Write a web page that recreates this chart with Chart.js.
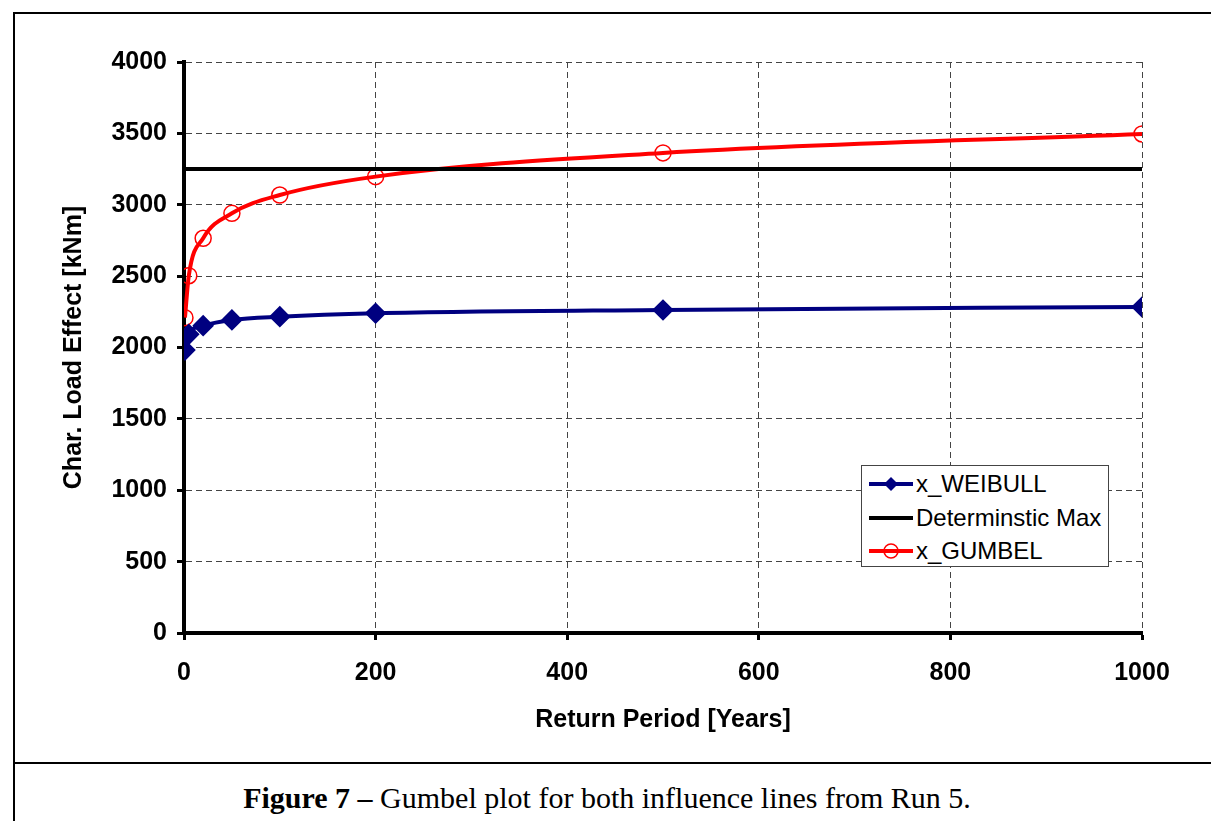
<!DOCTYPE html>
<html>
<head>
<meta charset="utf-8">
<script src="https://cdn.jsdelivr.net/npm/chart.js@4"></script>
<style>
  body { margin: 0; background: #fff; font-family: "Liberation Sans", Arial, sans-serif; }
  #frame { position: absolute; left: 13px; top: 12px; width: 1300px; height: 900px; border: 2px solid #000; }
  #divider { position: absolute; left: 13px; top: 762px; width: 1300px; border-top: 2px solid #000; }
  #chartBox { position: absolute; left: 15px; top: 15px; width: 1196px; height: 747px; }
  #caption { position: absolute; left: 0; top: 781px; width: 1214px; text-align: center;
    font-family: "Liberation Serif", "Times New Roman", serif; font-size: 30px; }
  #legend { position: absolute; left: 861px; top: 465px; width: 246px; height: 100px;
    border: 1px solid #444; background: #fff; }
  .row { position: absolute; left: 6px; height: 30px; font-size: 24px; display: flex; align-items: center; white-space: nowrap; }
  .row svg { margin-right: 2px; }
</style>
</head>
<body>
<div id="frame"></div>
<div id="divider"></div>
<div id="chartBox"><canvas id="grafico"></canvas></div>
<div id="legend">
  <div class="row" style="top:3px">
    <svg width="46" height="20"><line x1="1" y1="10" x2="45" y2="10" stroke="#000080" stroke-width="4"/><polygon points="23,3 30,10 23,17 16,10" fill="#000080"/></svg>x_WEIBULL
  </div>
  <div class="row" style="top:37px">
    <svg width="46" height="20"><line x1="1" y1="10" x2="45" y2="10" stroke="#000" stroke-width="4"/></svg>Determinstic Max
  </div>
  <div class="row" style="top:70px">
    <svg width="46" height="20"><line x1="1" y1="10" x2="45" y2="10" stroke="#ff0000" stroke-width="4"/><circle cx="23" cy="10" r="7" fill="none" stroke="#ff0000" stroke-width="1.5"/></svg>x_GUMBEL
  </div>
</div>
<div id="caption"><b>Figure 7 –</b> Gumbel plot for both influence lines from Run 5.</div>

<script>
// datos
const periodos = [1, 5, 20, 50, 100, 200, 500, 1000];
const weibull = [1982, 2092, 2153, 2193, 2216, 2240, 2263, 2284];
const gumbel = [2209, 2503, 2765, 2940, 3068, 3197, 3363, 3496];
const detX = [0, 1000];
const detMax = [3250, 3250];
const xTicks = [0, 200, 400, 600, 800, 1000];
const yTicks = [0, 500, 1000, 1500, 2000, 2500, 3000, 3500, 4000];

const toPoints = (xs, ys) => xs.map((x, i) => ({ x: x, y: ys[i] }));

const fuenteEje = { family: '"Liberation Sans", Arial, sans-serif', size: 25, weight: 'bold' };
const rejilla = { color: '#444', lineWidth: 1, tickColor: '#000', tickWidth: 3, tickLength: 7 };
const borde = { color: '#000', width: 4, dash: [6, 4] };

const ctx = document.getElementById('grafico').getContext('2d');
new Chart(ctx, {
    type: 'scatter',
    data: {
        datasets: [
            {
                label: 'x_WEIBULL',
                data: toPoints(periodos, weibull),
                showLine: true,
                borderColor: '#000080',
                backgroundColor: '#000080',
                borderWidth: 4,
                pointStyle: 'rectRot',
                pointRadius: 8,
                tension: 0.4,
                cubicInterpolationMode: 'monotone'
            },
            {
                label: 'Determinstic Max',
                data: toPoints(detX, detMax),
                showLine: true,
                borderColor: '#000',
                borderWidth: 4,
                pointRadius: 0
            },
            {
                label: 'x_GUMBEL',
                data: toPoints(periodos, gumbel),
                showLine: true,
                borderColor: '#ff0000',
                backgroundColor: 'transparent',
                pointBorderColor: '#ff0000',
                pointBorderWidth: 1.5,
                borderWidth: 4,
                pointStyle: 'circle',
                pointRadius: 8,
                tension: 0.4,
                cubicInterpolationMode: 'monotone'
            }
        ]
    },
    options: {
        responsive: true,
        maintainAspectRatio: false,
        animation: false,
        layout: { padding: { left: 40, right: 69, top: 47, bottom: 25 } },
        plugins: {
            legend: { display: false },
            tooltip: { enabled: false }
        },
        scales: {
            x: {
                type: 'linear',
                min: 0,
                max: 1000,
                afterBuildTicks: s => { s.ticks = xTicks.map(v => ({ value: v })); },
                afterFit: s => { s.height = 104; },
                ticks: { color: '#000', font: fuenteEje, padding: 18, callback: v => String(v) },
                grid: rejilla,
                border: borde,
                title: { display: true, text: 'Return Period [Years]', color: '#000', font: fuenteEje, padding: 2 }
            },
            y: {
                min: 0,
                max: 4000,
                afterBuildTicks: s => { s.ticks = yTicks.map(v => ({ value: v })); },
                afterFit: s => { s.width = 129; },
                ticks: { color: '#000', font: fuenteEje, padding: 10, callback: v => String(v) },
                grid: rejilla,
                border: borde,
                title: { display: true, text: 'Char. Load Effect [kNm]', color: '#000', font: fuenteEje, padding: 4 }
            }
        }
    }
});
</script>
</body>
</html>
